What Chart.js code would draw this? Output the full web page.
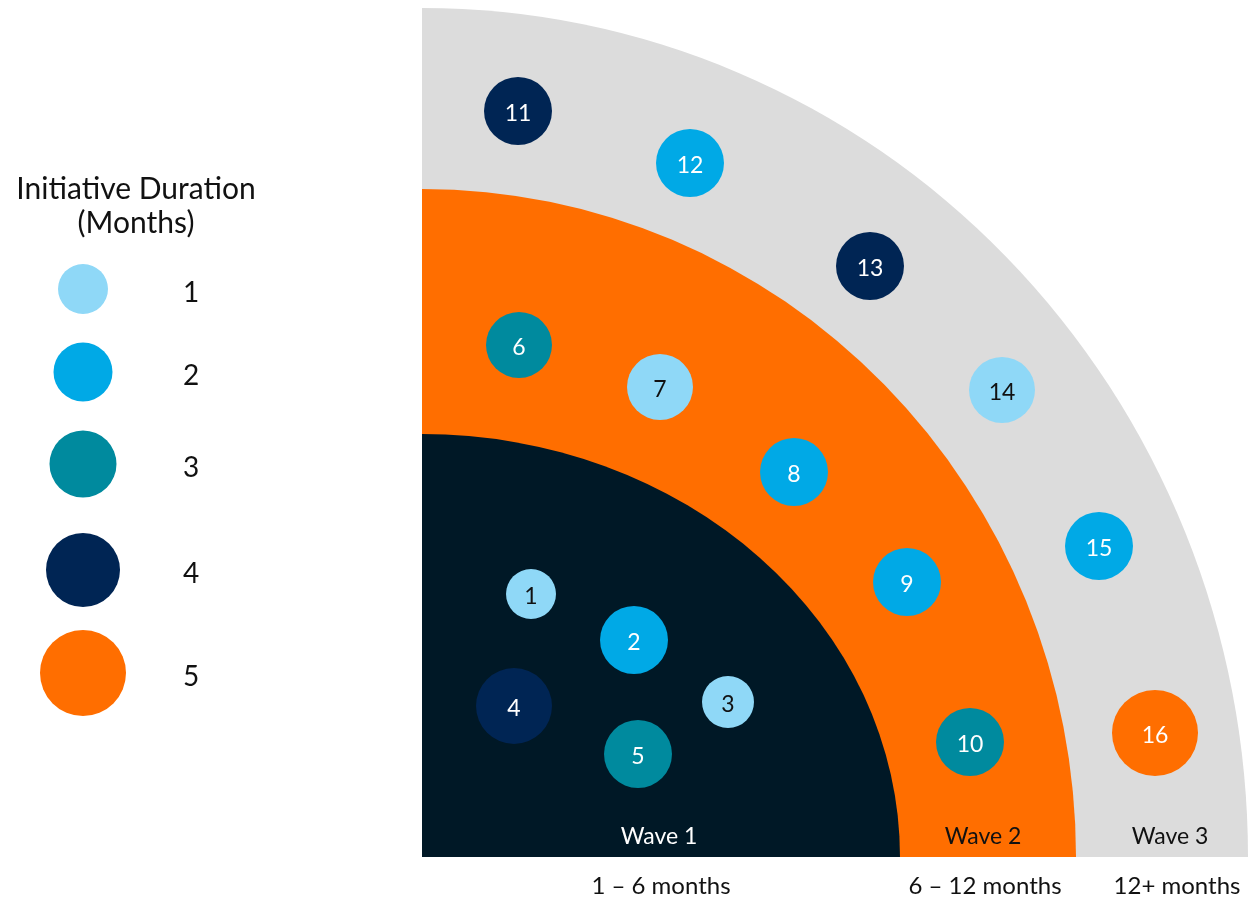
<!DOCTYPE html>
<html>
<head>
<meta charset="utf-8">
<title>Initiative waves</title>
<script src="https://cdn.jsdelivr.net/npm/chart.js@4.4.1/dist/chart.umd.min.js"></script>
<style>
  html, body { margin: 0; padding: 0; background: #fff; }
  #waveChart { display: block; }
</style>
</head>
<body>
<canvas id="waveChart" width="1248" height="898"></canvas>
<script>
// waves (quarter ellipses from the origin)
const waveNames = ['Wave 1', 'Wave 2', 'Wave 3'];
const waveRanges = ['1 – 6 months', '6 – 12 months', '12+ months'];
const waveReachX = [478, 654, 826];
const waveReachY = [423, 668, 849];
const waveLabelX = [237, 561, 748];

// initiatives
const initiativeIds = [1, 2, 3, 4, 5, 6, 7, 8, 9, 10, 11, 12, 13, 14, 15, 16];
const initiativeX = [109, 212, 306, 92, 216, 97, 238, 372, 485, 548, 96, 268, 448, 580, 677, 733];
const initiativeY = [263, 217, 155, 151, 103, 512, 470, 385, 275, 115, 746, 694, 591, 467, 311, 124];
const initiativeSize = [25, 34, 26, 38, 34, 33, 33, 34, 34, 34, 34, 34, 34, 33, 34, 43];
const initiativeMonths = [1, 2, 1, 4, 3, 3, 1, 2, 2, 3, 4, 2, 4, 1, 2, 5];

// duration key
const durationValues = [1, 2, 3, 4, 5];
const durationSize = [25, 29.5, 33.5, 37, 43];
const durationKeyY = [568, 485, 393, 287, 184];

const durationColors = ['#8fd8f7', '#00a9e6', '#008a9e', '#002554', '#ff6e00'];
const waveColors = ['#001826', '#ff6e00', '#dcdcdc'];
const font = 'Lato, "Noto Sans", sans-serif';

const keyX = -339;
const keyLabelX = -231;

const waveBands = {
  id: 'waveBands',
  beforeDatasetsDraw(chart) {
    const { ctx, scales: { x, y } } = chart;
    const cx = x.getPixelForValue(0);
    const cy = y.getPixelForValue(0);
    ctx.save();
    for (let i = waveNames.length - 1; i >= 0; i--) {
      const rx = x.getPixelForValue(waveReachX[i]) - cx;
      const ry = cy - y.getPixelForValue(waveReachY[i]);
      ctx.beginPath();
      ctx.moveTo(cx, cy);
      ctx.ellipse(cx, cy, rx, ry, 0, -Math.PI / 2, 0);
      ctx.closePath();
      ctx.fillStyle = waveColors[i];
      ctx.fill();
    }
    ctx.textAlign = 'center';
    ctx.textBaseline = 'middle';
    waveNames.forEach((name, i) => {
      ctx.font = '23px ' + font;
      ctx.fillStyle = i === 0 ? '#ffffff' : '#111111';
      ctx.fillText(name, x.getPixelForValue(waveLabelX[i]), y.getPixelForValue(20));
      ctx.font = '24px ' + font;
      ctx.fillStyle = '#111111';
      ctx.fillText(waveRanges[i], x.getPixelForValue(waveLabelX[i] + (i === 2 ? 7 : 2)), y.getPixelForValue(-29));
    });

    // key heading
    ctx.font = '30px ' + font;
    ctx.fillText('Initiative Duration', x.getPixelForValue(-286), y.getPixelForValue(668));
    ctx.fillText('(Months)', x.getPixelForValue(-286), y.getPixelForValue(634));
    ctx.restore();
  },
  afterDatasetsDraw(chart) {
    const { ctx } = chart;
    ctx.save();
    ctx.textAlign = 'center';
    ctx.textBaseline = 'middle';

    chart.getDatasetMeta(0).data.forEach((pt, i) => {
      ctx.font = '23px ' + font;
      ctx.fillStyle = initiativeMonths[i] === 1 ? '#111111' : '#ffffff';
      ctx.fillText(String(initiativeIds[i]), pt.x, pt.y + 3);
    });

    const { x } = chart.scales;
    chart.getDatasetMeta(1).data.forEach((pt, i) => {
      ctx.font = '28px ' + font;
      ctx.fillStyle = '#111111';
      ctx.fillText(String(durationValues[i]), x.getPixelForValue(keyLabelX), pt.y + 4);
    });
    ctx.restore();
  }
};

new Chart(document.getElementById('waveChart'), {
  type: 'bubble',
  data: {
    datasets: [
      {
        label: 'Initiatives',
        data: initiativeIds.map((id, i) => ({ x: initiativeX[i], y: initiativeY[i], r: initiativeSize[i] })),
        backgroundColor: initiativeMonths.map(m => durationColors[m - 1]),
        borderWidth: 0
      },
      {
        label: 'Duration key',
        data: durationValues.map((v, i) => ({ x: keyX, y: durationKeyY[i], r: durationSize[i] })),
        backgroundColor: durationColors,
        borderWidth: 0
      }
    ]
  },
  options: {
    responsive: false,
    devicePixelRatio: 1,
    animation: false,
    events: [],
    layout: { padding: 0, autoPadding: false },
    clip: false,
    scales: {
      x: { type: 'linear', min: -422, max: 826, display: false },
      y: { type: 'linear', min: -41, max: 857, display: false }
    },
    plugins: {
      legend: { display: false },
      tooltip: { enabled: false }
    }
  },
  plugins: [waveBands]
});
</script>
</body>
</html>
